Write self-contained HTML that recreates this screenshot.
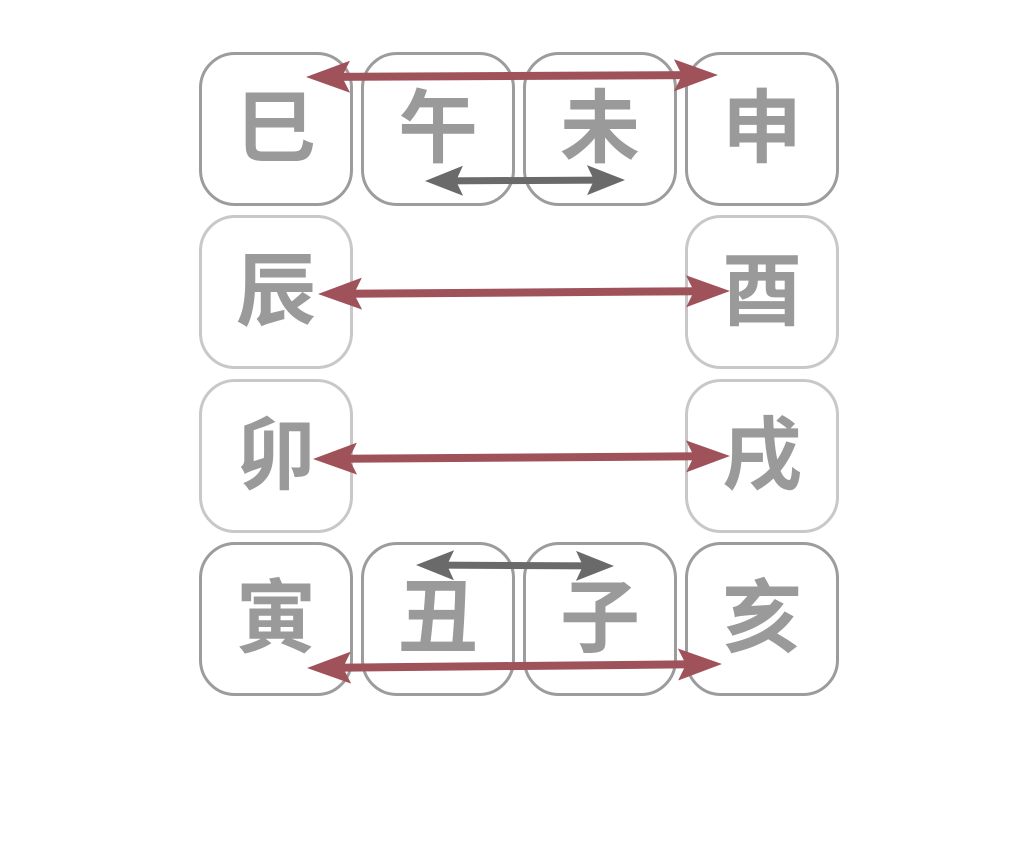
<!DOCTYPE html>
<html><head><meta charset="utf-8"><style>
body{margin:0;background:#fff;width:1024px;height:851px;overflow:hidden;position:relative;font-family:"Liberation Sans","Noto Sans CJK SC",sans-serif}
.b{position:absolute;width:148px;height:148px;border:3px solid #9c9c9c;border-radius:36px;box-sizing:content-box;display:flex;align-items:center;justify-content:center;font-size:80px;font-weight:bold;color:#9a9a9a;line-height:1}
.l{border-color:#c8c8c8}
svg{position:absolute;left:0;top:0}
</style></head><body>
<div class="b" style="left:199px;top:52px">巳</div>
<div class="b" style="left:361px;top:52px">午</div>
<div class="b" style="left:523px;top:52px">未</div>
<div class="b" style="left:685px;top:52px">申</div>
<div class="b l" style="left:199px;top:215px">辰</div>
<div class="b l" style="left:685px;top:215px">酉</div>
<div class="b l" style="left:199px;top:379px">卯</div>
<div class="b l" style="left:685px;top:379px">戌</div>
<div class="b" style="left:199px;top:542px">寅</div>
<div class="b" style="left:361px;top:542px">丑</div>
<div class="b" style="left:523px;top:542px">子</div>
<div class="b" style="left:685px;top:542px">亥</div>
<svg width="1024" height="851">
<defs>
<g id="ar"><line x1="30" y1="0" x2="-30" y2="0" transform="translate(0,0)"/></g>
</defs>
<g fill="#a0525a" stroke="#a0525a" stroke-width="8">
<g transform="translate(306,77) rotate(-0.28)"><line x1="30" y1="0" x2="382" y2="0"/><path d="M0,0L44,-16L36,0L44,16Z" stroke="none"/><path d="M412,0L368,-16L376,0L368,16Z" stroke="none"/></g>
<g transform="translate(318,294) rotate(-0.42)"><line x1="30" y1="0" x2="382" y2="0"/><path d="M0,0L44,-16L36,0L44,16Z" stroke="none"/><path d="M412,0L368,-16L376,0L368,16Z" stroke="none"/></g>
<g transform="translate(313,459) rotate(-0.41)"><line x1="30" y1="0" x2="387" y2="0"/><path d="M0,0L44,-16L36,0L44,16Z" stroke="none"/><path d="M417,0L373,-16L381,0L373,16Z" stroke="none"/></g>
<g transform="translate(307,668) rotate(-0.55)"><line x1="30" y1="0" x2="385" y2="0"/><path d="M0,0L44,-16L36,0L44,16Z" stroke="none"/><path d="M415,0L371,-16L379,0L371,16Z" stroke="none"/></g>
</g>
<g fill="#6a6a6a" stroke="#6a6a6a" stroke-width="7">
<g transform="translate(425,181) rotate(-0.3)"><line x1="25" y1="0" x2="175" y2="0"/><path d="M0,0L38,-15L31,0L38,15Z" stroke="none"/><path d="M200,0L162,-15L169,0L162,15Z" stroke="none"/></g>
<g transform="translate(416,565) rotate(0.3)"><line x1="25" y1="0" x2="173" y2="0"/><path d="M0,0L38,-15L31,0L38,15Z" stroke="none"/><path d="M198,0L160,-15L167,0L160,15Z" stroke="none"/></g>
</g>
</svg>
</body></html>
